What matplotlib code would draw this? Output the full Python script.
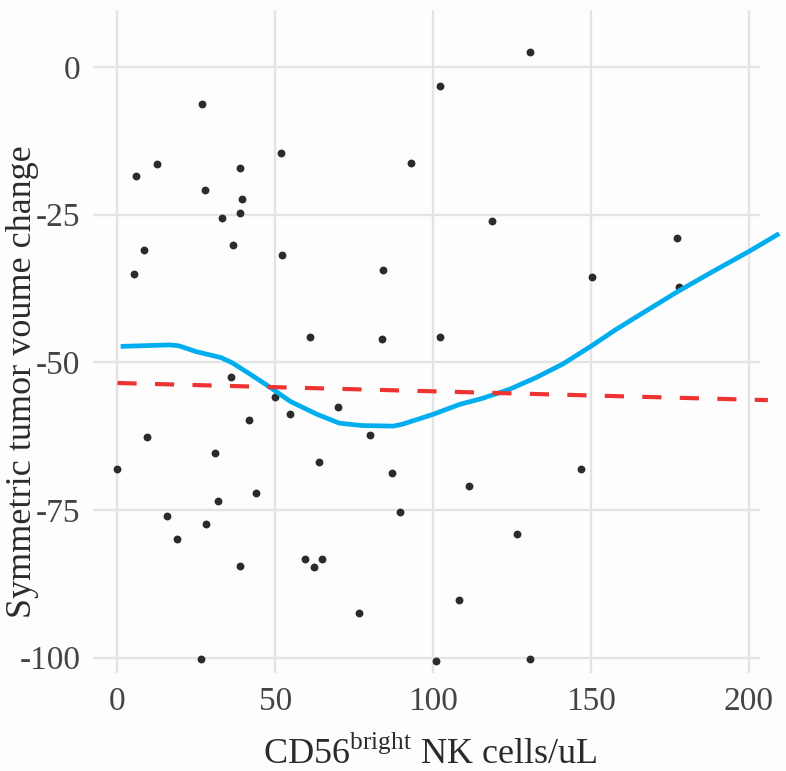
import numpy as np
import matplotlib
matplotlib.use("Agg")
import matplotlib.pyplot as plt

plt.rcParams['font.family'] = ['Liberation Serif', 'DejaVu Serif']
plt.rcParams['mathtext.fontset'] = 'custom'
plt.rcParams['mathtext.rm'] = 'Liberation Serif'
plt.rcParams['axes.unicode_minus'] = False

# CD56bright NK cells/uL vs symmetric tumor volume change
nk_cells = [130.5, 102.0, 26.7, 51.8, 12.4, 5.9, 38.8, 93.1, 27.6, 39.5,
            38.8, 33.0, 118.7, 177.2, 8.5, 36.6, 52.2, 5.1, 84.2, 150.2,
            177.9, 61.1, 83.7, 102.0, 36.1, 49.8, 70.0, 54.7, 41.7, 79.9,
            9.3, 30.8, 63.9, 0.0, 146.8, 86.8, 111.2, 43.8, 31.7, 89.4,
            15.6, 27.9, 19.0, 126.6, 59.3, 64.8, 62.4, 38.8, 108.1, 76.4,
            26.3, 100.8, 130.8]
volume_change = [2.5, -3.2, -6.3, -14.6, -16.5, -18.5, -17.1, -16.3, -20.8, -22.4,
                 -24.7, -25.6, -26.1, -29.0, -31.0, -30.1, -31.9, -35.1, -34.4, -35.6,
                 -37.2, -45.7, -46.1, -45.7, -52.4, -55.8, -57.5, -58.8, -59.8, -62.3,
                 -62.6, -65.4, -66.8, -68.0, -68.0, -68.8, -71.0, -72.1, -73.4, -75.3,
                 -76.1, -77.3, -79.9, -79.0, -83.3, -83.3, -84.6, -84.4, -90.3, -92.5,
                 -100.2, -100.5, -100.2]

# loess curve
smooth_x = [1.0, 16.5, 19.4, 25.0, 32.8, 36.4, 42.0, 47.7, 54.7, 63.2, 70.3,
            77.4, 87.3, 90.1, 100.0, 108.5, 115.6, 124.0, 132.5, 141.0, 150.2,
            158.0, 166.5, 177.8, 189.0, 200.4, 209.6]
smooth_y = [-47.3, -47.05, -47.2, -48.2, -49.2, -50.1, -52.0, -54.0, -56.6, -58.8, -60.3,
            -60.7, -60.8, -60.5, -58.8, -57.1, -56.1, -54.6, -52.6, -50.3, -47.2,
            -44.4, -41.6, -37.9, -34.5, -31.1, -28.2]

# linear fit
fit_x = [0.0, 206.0]
fit_y = [-53.5, -56.4]

x_ticks = [0, 50, 100, 150, 200]
y_ticks = [0, -25, -50, -75, -100]

fig = plt.figure(figsize=(7.86, 7.71), dpi=100, facecolor='#fdfdfd')
ax = fig.add_axes([0.1183, 0.1271, 0.8486, 0.8599])
ax.set_facecolor('#fdfdfd')

ax.scatter(nk_cells, volume_change, s=32, color='#2b2b2b', linewidths=0, zorder=3)
ax.plot(smooth_x, smooth_y, color='#00aeef', lw=3.4, solid_capstyle='butt',
        clip_on=False, zorder=4)
ax.plot(fit_x, fit_y, color='#ee3333', lw=3.0, dashes=(4.6, 4.4),
        clip_on=False, zorder=4)

ax.set_xlim(-7.76, 203.5)
ax.set_ylim(-102.6, 9.65)
ax.set_xticks(x_ticks)
ax.set_yticks(y_ticks)
ax.grid(True, color='#e4e4e4', lw=1.7)
ax.set_axisbelow(True)
for s in ax.spines.values():
    s.set_visible(False)
ax.tick_params(length=0, labelsize=24, labelcolor='#444444')
ax.tick_params(axis='x', pad=10)
ax.tick_params(axis='y', pad=9)

ax.set_xlabel(r'CD56$^{\mathrm{bright}}$ NK cells/uL', fontsize=26, color='#2b2b2b')
ax.xaxis.set_label_coords(0.505, -0.095)
ax.xaxis.label.set_va('top')
ax.set_ylabel('Symmetric tumor voume change', fontsize=26, color='#2b2b2b')
ax.yaxis.set_label_coords(-0.106, 0.44)
ax.yaxis.label.set_va('center')

fig.savefig('out.png', dpi=100, facecolor=fig.get_facecolor())
